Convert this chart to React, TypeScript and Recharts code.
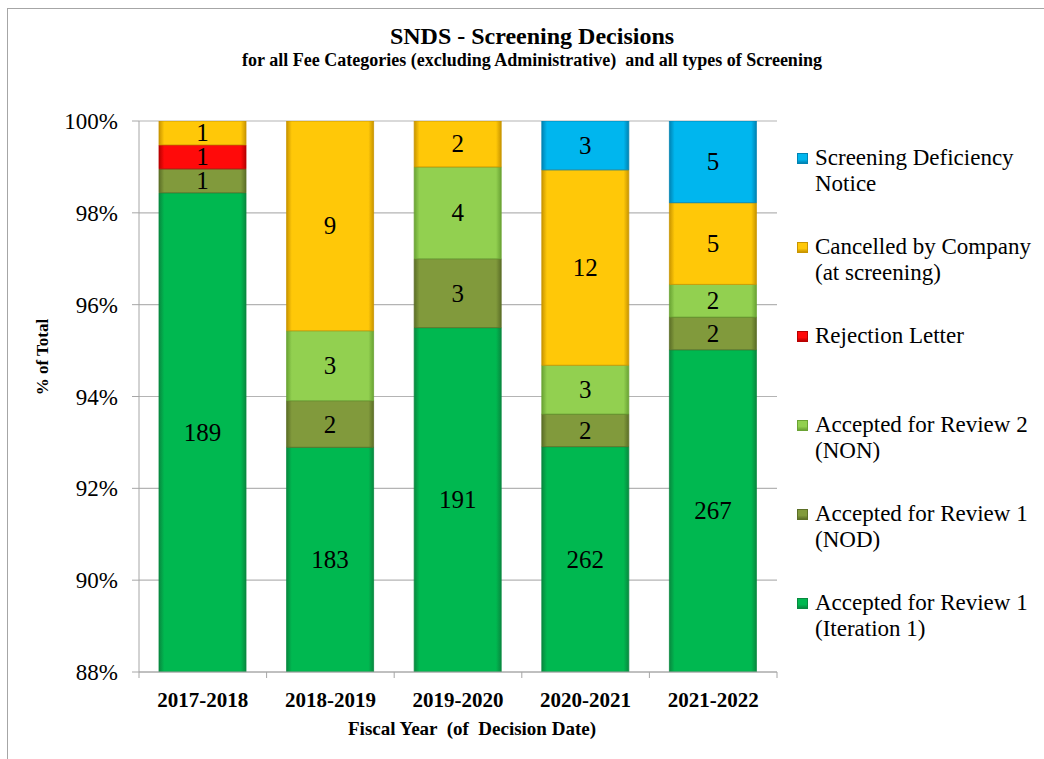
import React from "react"
import { BarChart, Bar, XAxis, YAxis, CartesianGrid, LabelList } from "recharts"

// Fiscal years and counts per decision type
const years = ["2017-2018", "2018-2019", "2019-2020", "2020-2021", "2021-2022"]
const iteration1 = [189, 183, 191, 262, 267]
const nod = [1, 2, 3, 2, 2]
const non = [0, 3, 4, 3, 2]
const rejection = [1, 0, 0, 0, 0]
const cancelled = [1, 9, 2, 12, 5]
const deficiency = [0, 0, 0, 3, 5]

const yTicks = [0.88, 0.9, 0.92, 0.94, 0.96, 0.98, 1.0]

// bottom to top stacking order
const series = [
  { key: "iter1", name: ["Accepted for Review 1", "(Iteration 1)"], values: iteration1, color: "#00B850", edge: "#08893f" },
  { key: "nod", name: ["Accepted for Review 1", "(NOD)"], values: nod, color: "#819A3C", edge: "#5c6f27" },
  { key: "non", name: ["Accepted for Review 2", "(NON)"], values: non, color: "#92D050", edge: "#6aa334" },
  { key: "rej", name: ["Rejection Letter"], values: rejection, color: "#FF0A0A", edge: "#b80000" },
  { key: "can", name: ["Cancelled by Company", "(at screening)"], values: cancelled, color: "#FFC808", edge: "#c99500" },
  { key: "def", name: ["Screening Deficiency", "Notice"], values: deficiency, color: "#00B6EE", edge: "#0083b3" },
]

const data = years.map((year, i) => {
  const total = series.reduce((s, ser) => s + ser.values[i], 0)
  const row: any = { year }
  series.forEach((ser) => {
    row[ser.key] = ser.values[i] / total
    row[ser.key + "_n"] = ser.values[i]
  })
  return row
})

const W = 1044
const H = 759
const PLOT = { left: 139, right: 777, top: 121, bottom: 672 }
const Y_AXIS_W = 60
const X_AXIS_H = 40
const serif = "'Liberation Serif', 'Times New Roman', serif"

const CountLabel = (props: any) => {
  const { x, y, width, height, value } = props
  if (!value) return null
  const top = Math.max(y, PLOT.top)
  const bottom = Math.min(y + height, PLOT.bottom)
  return (
    <text
      x={x + width / 2}
      y={(top + bottom) / 2}
      textAnchor="middle"
      dominantBaseline="central"
      fontFamily={serif}
      fontSize={25}
      fill="#000"
    >
      {value}
    </text>
  )
}

const YearTick = (props: any) => {
  const { x, payload, index } = props
  const half = (PLOT.right - PLOT.left) / years.length / 2
  return (
    <g>
      <line x1={x - half} x2={x - half} y1={PLOT.bottom} y2={PLOT.bottom + 6} stroke="#a6a6a6" />
      {index === years.length - 1 && (
        <line x1={x + half} x2={x + half} y1={PLOT.bottom} y2={PLOT.bottom + 6} stroke="#a6a6a6" />
      )}
      <text x={x} y={PLOT.bottom + 35} textAnchor="middle" fontFamily={serif} fontWeight="bold" fontSize={21} fill="#000">
        {payload.value}
      </text>
    </g>
  )
}

export default function App() {
  return (
    <div style={{ position: "absolute", left: 0, top: 0, width: W, height: H, background: "#fff", fontFamily: serif }}>
      <div style={{ position: "absolute", left: 7, top: 8, width: W - 7, height: H - 8, borderTop: "1.5px solid #a6a6a6", borderLeft: "1.5px solid #a6a6a6" }} />
      <div style={{ position: "absolute", left: 20, width: 1024, top: 22, textAlign: "center", fontWeight: "bold", fontSize: 24, lineHeight: "28px" }}>
        SNDS - Screening Decisions
      </div>
      <div style={{ position: "absolute", left: 20, width: 1024, top: 50, textAlign: "center", fontWeight: "bold", fontSize: 18, lineHeight: "20px", whiteSpace: "pre" }}>
        {"for all Fee Categories (excluding Administrative)  and all types of Screening"}
      </div>
      <div style={{ position: "absolute", left: 43 - 60, top: 357 - 10, width: 120, height: 20, textAlign: "center", transform: "rotate(-90deg)", fontWeight: "bold", fontSize: 17, lineHeight: "20px" }}>
        % of Total
      </div>
      <div style={{ position: "absolute", left: 272, width: 400, top: 718, textAlign: "center", fontWeight: "bold", fontSize: 19, lineHeight: "22px", whiteSpace: "pre" }}>
        {"Fiscal Year  (of  Decision Date)"}
      </div>

      <div style={{ position: "absolute", left: 0, top: 0 }}>
        <BarChart
          width={W}
          height={H}
          data={data}
          margin={{ top: PLOT.top, right: W - PLOT.right, bottom: H - PLOT.bottom - X_AXIS_H, left: PLOT.left - Y_AXIS_W }}
        >
          <defs>
            {series.map((s) => (
              <linearGradient key={s.key} id={"g_" + s.key} x1="0" y1="0" x2="1" y2="0">
                <stop offset="0%" stopColor={s.edge} />
                <stop offset="6%" stopColor={s.color} />
                <stop offset="94%" stopColor={s.color} />
                <stop offset="100%" stopColor={s.edge} />
              </linearGradient>
            ))}
          </defs>
          <CartesianGrid vertical={false} stroke="#b4b4b4" strokeWidth={1.2} />
          <XAxis
            dataKey="year"
            axisLine={{ stroke: "#a6a6a6" }}
            tickLine={false}
            tick={<YearTick />}
            height={X_AXIS_H}
            interval={0}
          />
          <YAxis
            domain={[0.88, 1]}
            ticks={yTicks}
            allowDataOverflow
            width={Y_AXIS_W}
            axisLine={{ stroke: "#a6a6a6" }}
            tickLine={{ stroke: "#a6a6a6" }}
            tickSize={7}
            tickMargin={14}
            tickFormatter={(v: number) => Math.round(v * 100) + "%"}
            tick={{ fill: "#000", fontFamily: serif, fontSize: 23 }}
          />
          {series.map((s) => (
            <Bar
              key={s.key}
              dataKey={s.key}
              stackId="a"
              barSize={87}
              fill={`url(#g_${s.key})`}
              stroke={s.edge}
              strokeWidth={0.8}
              isAnimationActive={false}
            >
              <LabelList dataKey={s.key + "_n"} content={<CountLabel />} />
            </Bar>
          ))}
        </BarChart>
      </div>

      <div style={{ position: "absolute", left: 797, top: 145 }}>
        {[...series].reverse().map((s) => (
          <div key={s.key} style={{ height: 89, position: "relative" }}>
            <div
              style={{
                position: "absolute",
                left: 0,
                top: 8,
                width: 11,
                height: 11,
                background: `linear-gradient(180deg, ${s.color} 0%, ${s.color} 60%, ${s.edge} 100%)`,
                border: `1px solid ${s.edge}`,
                boxSizing: "border-box",
              }}
            />
            <div style={{ position: "absolute", left: 18, top: 0, fontSize: 23, lineHeight: "26px", whiteSpace: "nowrap", color: "#000" }}>
              {s.name.map((line, i) => (
                <div key={i}>{line}</div>
              ))}
            </div>
          </div>
        ))}
      </div>
    </div>
  )
}
